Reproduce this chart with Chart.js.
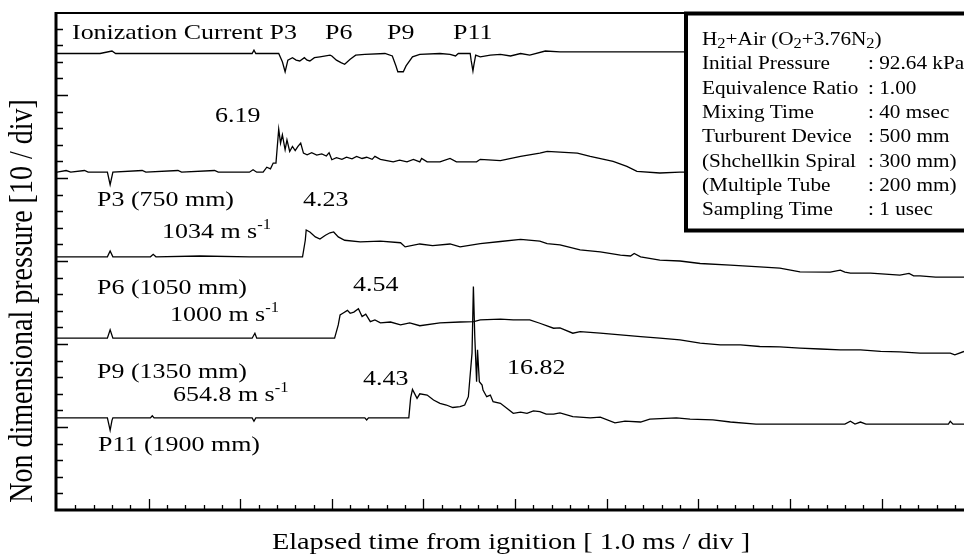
<!DOCTYPE html>
<html>
<head>
<meta charset="utf-8">
<script src="https://cdn.jsdelivr.net/npm/chart.js@4.4.0/dist/chart.umd.min.js"></script>
<style>
  html, body { margin: 0; padding: 0; background: #fff; }
  #wrap { width: 964px; height: 556px; }
</style>
</head>
<body>
<div id="wrap"><canvas id="pressureChart" width="964" height="556"></canvas></div>
<script>
// time in ms from ignition, pressure as p/p0; each trace is shifted up by its offset
const ionTime = [0, 0.47, 0.60, 0.64, 1.56, 2.13, 2.15, 2.17, 2.42, 2.46, 2.49, 2.52, 2.57, 2.61, 2.65, 2.70, 2.73, 2.76, 2.81, 2.87, 2.98, 3.00, 3.05, 3.10, 3.14, 3.20, 3.26, 3.36, 3.58, 3.66, 3.70, 3.72, 3.78, 3.81, 3.88, 3.96, 4.18, 4.29, 4.35, 4.38, 4.51, 4.52, 4.54, 4.55, 4.57, 4.62, 4.73, 4.84, 4.95, 5.06, 5.16, 5.33, 5.49, 5.71, 6.91];
const ionSignal = [0, 0, 0.3, 0, 0, 0, 0.4, 0, 0, -1.0, -2.2, -0.8, -0.5, -0.8, -0.9, -0.5, -0.8, -0.9, -0.5, -0.4, -0.2, -0.3, -0.8, -1.1, -1.3, -0.7, -0.2, -0.1, 0, -0.3, -1.5, -2.2, -2.2, -1.5, -0.4, -0.1, 0, -0.1, -0.3, 0, 0, -0.8, -2.1, -1.4, -0.2, -0.4, -0.2, -0.1, -0.3, 0, -0.2, 0.3, 0.2, 0.2, 0.2];

const p3Time = [0, 0.10, 0.15, 0.30, 0.34, 0.55, 0.58, 0.61, 0.93, 0.97, 1.32, 1.36, 1.72, 1.76, 2.10, 2.14, 2.18, 2.25, 2.29, 2.33, 2.36, 2.39, 2.42, 2.44, 2.46, 2.49, 2.51, 2.54, 2.57, 2.60, 2.63, 2.66, 2.69, 2.73, 2.78, 2.835, 2.89, 2.94, 2.97, 3.00, 3.05, 3.11, 3.16, 3.22, 3.27, 3.33, 3.38, 3.44, 3.47, 3.53, 3.60, 3.67, 3.74, 3.82, 3.89, 3.96, 3.98, 4.04, 4.18, 4.29, 4.36, 4.58, 4.62, 4.84, 5.06, 5.27, 5.35, 5.68, 5.82, 6.07, 6.22, 6.33, 6.58, 6.80, 6.95];
const p3Ratio = [1.0, 1.2, 1.0, 1.2, 1.0, 1.0, -0.5, 1.0, 1.2, 1.0, 1.2, 1.0, 1.2, 1.0, 1.0, 1.3, 1.0, 1.0, 1.6, 1.4, 2.1, 2.1, 6.19, 4.5, 5.5, 3.7, 4.9, 3.5, 4.1, 3.6, 4.1, 4.5, 3.3, 3.1, 3.35, 3.05, 3.2, 2.95, 3.35, 2.5, 2.75, 2.55, 2.8, 2.6, 2.9, 2.65, 2.8, 2.55, 2.9, 2.55, 2.4, 2.25, 2.45, 2.25, 2.55, 2.25, 2.65, 2.25, 2.25, 2.65, 2.25, 2.25, 2.55, 2.4, 2.9, 3.3, 3.5, 3.3, 2.9, 2.3, 1.7, 1.1, 0.9, 1.0, 1.0];

const p6Time = [0, 0.55, 0.58, 0.61, 1.02, 1.05, 1.08, 1.56, 2.10, 2.68, 2.71, 2.72, 2.76, 2.82, 2.87, 2.93, 2.98, 3.02, 3.07, 3.14, 3.31, 3.53, 3.75, 3.80, 3.96, 4.10, 4.29, 4.40, 4.62, 4.84, 5.06, 5.27, 5.35, 5.49, 5.71, 5.93, 6.15, 6.26, 6.30, 6.37, 6.58, 6.80, 7.02, 7.35, 7.67, 7.89, 8.11, 8.44, 8.55, 8.60, 8.66, 8.88, 9.20, 9.30, 9.35, 9.42, 9.59, 9.90];
const p6Ratio = [1.0, 1.0, 1.7, 1.0, 1.0, 1.3, 1.0, 1.1, 1.0, 1.0, 3.0, 4.23, 4.0, 3.4, 3.15, 3.6, 3.9, 4.0, 3.4, 3.0, 2.8, 2.9, 2.7, 2.2, 2.55, 2.35, 2.55, 2.2, 2.6, 2.85, 3.1, 2.9, 2.6, 2.45, 1.85, 1.6, 1.2, 1.1, 1.4, 1.0, 0.6, 0.5, 0.2, 0.0, -0.2, -0.35, -0.8, -0.85, -0.6, -0.85, -0.95, -0.95, -1.2, -1.0, -1.3, -1.3, -1.45, -1.45];

const p9Time = [0, 0.55, 0.58, 0.61, 2.13, 2.16, 2.18, 3.03, 3.07, 3.09, 3.12, 3.17, 3.20, 3.24, 3.29, 3.33, 3.37, 3.42, 3.47, 3.53, 3.64, 3.75, 3.85, 3.96, 4.18, 4.40, 4.55, 4.62, 4.84, 4.98, 5.16, 5.27, 5.42, 5.49, 5.63, 5.71, 5.93, 6.15, 6.37, 6.58, 6.80, 7.02, 7.24, 7.46, 7.67, 7.89, 8.11, 8.33, 8.55, 8.77, 8.99, 9.20, 9.42, 9.75, 9.80, 9.90];
const p9Ratio = [1.0, 1.0, 2.0, 1.0, 1.0, 1.6, 1.0, 1.0, 2.6, 3.8, 4.0, 4.35, 4.0, 4.15, 4.54, 3.6, 3.9, 3.0, 3.2, 2.85, 2.95, 2.6, 2.85, 2.5, 2.85, 2.95, 3.0, 3.2, 3.3, 3.2, 3.2, 2.8, 2.2, 2.25, 1.6, 1.8, 1.6, 1.4, 1.2, 1.0, 0.8, 0.4, 0.2, 0.2, 0.0, -0.05, -0.2, -0.3, -0.4, -0.4, -0.6, -0.65, -0.8, -0.8, -1.0, -0.6];

const p11Time = [0, 0.55, 0.58, 0.60, 0.61, 1.02, 1.04, 1.06, 2.13, 2.15, 2.17, 3.36, 3.38, 3.40, 3.84, 3.86, 3.88, 3.93, 3.96, 4.04, 4.11, 4.18, 4.25, 4.32, 4.40, 4.45, 4.49, 4.53, 4.545, 4.56, 4.58, 4.59, 4.61, 4.64, 4.65, 4.69, 4.73, 4.76, 4.84, 4.91, 4.98, 5.06, 5.13, 5.20, 5.27, 5.34, 5.42, 5.49, 5.63, 5.82, 5.93, 6.09, 6.20, 6.37, 6.47, 6.76, 6.91, 7.16, 7.35, 7.63, 8.60, 8.66, 8.71, 8.77, 8.83, 9.73, 9.75, 9.78, 9.90];
const p11Ratio = [1.0, 1.0, -0.5, 0.7, 1.0, 1.0, 1.25, 1.0, 1.0, 0.6, 1.0, 1.0, 0.75, 1.0, 1.0, 3.4, 4.43, 3.35, 3.9, 3.75, 3.15, 2.75, 2.55, 2.25, 2.35, 2.55, 3.55, 8.8, 16.82, 10.8, 5.35, 9.2, 5.35, 4.95, 4.35, 3.55, 3.75, 2.95, 2.75, 2.15, 1.55, 1.7, 1.55, 1.85, 1.75, 1.45, 1.45, 1.6, 1.15, 1.0, 1.1, 0.4, 0.6, 0.5, 0.85, 1.0, 0.85, 0.75, 0.5, 0.25, 0.25, 0.6, 0.25, 0.5, 0.25, 0.25, 0.6, 0.25, 0.25];

const ionOffset = 55;
const traceOffsets = [39.7, 29.5, 19.7, 10.1];   // P3, P6, P9, P11

const timeRange = [0, 9.9];       // ms
const pressureRange = [0, 60];    // 10 / div
const timeMajor = 1.0, timeMinor = 0.2;
const pressureMajor = 10, pressureMinor = 2;

const SX = 1.18;   // horizontal stretch of all lettering
const SERIF = '"Liberation Serif", "Times New Roman", serif';

function toPoints(times, values, offset) {
  return times.map((t, i) => ({ x: t, y: values[i] + offset }));
}

// draws a list of runs [text, size, rise] left to right, returns end x
function drawRuns(ctx, runs, x, y) {
  let cx = x;
  runs.forEach(([str, size, rise]) => {
    ctx.save();
    ctx.font = size + 'px ' + SERIF;
    ctx.translate(cx, y - (rise || 0));
    ctx.scale(SX, 1);
    ctx.fillText(str, 0, 0);
    cx += ctx.measureText(str).width * SX;
    ctx.restore();
  });
  return cx;
}

const F = 22;        // label size
const SUP = 14;      // superscript / subscript size
const BOX = 18;      // info box size

const traceLabels = [
  [[['Ionization Current P3', F]], 72, 39],
  [[['P6', F]], 325, 39],
  [[['P9', F]], 387, 39],
  [[['P11', F]], 453, 39],
  [[['6.19', F]], 215, 122],
  [[['P3 (750 mm)', F]], 97, 206],
  [[['4.23', F]], 303, 206],
  [[['1034 m s', F], ['-1', SUP, 9]], 162, 238],
  [[['P6 (1050 mm)', F]], 97, 294],
  [[['4.54', F]], 353, 291],
  [[['1000 m s', F], ['-1', SUP, 9]], 170, 321],
  [[['P9 (1350 mm)', F]], 97, 378],
  [[['4.43', F]], 363, 385],
  [[['16.82', F]], 507, 374],
  [[['654.8 m s', F], ['-1', SUP, 9]], 173, 401],
  [[['P11 (1900 mm)', F]], 98, 451]
];

const boxRows = [
  ['Initial Pressure', ': 92.64 kPa'],
  ['Equivalence Ratio', ': 1.00'],
  ['Mixing Time', ': 40 msec'],
  ['Turburent Device', ': 500 mm'],
  ['(Shchellkin Spiral', ': 300 mm)'],
  ['(Multiple Tube', ': 200 mm)'],
  ['Sampling Time', ': 1 usec']
];

const annotate = {
  id: 'annotate',
  afterDatasetsDraw(chart) {
    const { ctx } = chart;
    ctx.save();
    ctx.textBaseline = 'alphabetic';

    // experiment condition box, drawn over the traces
    ctx.fillStyle = '#fff';
    ctx.fillRect(686, 13, 290, 218);
    ctx.strokeStyle = '#000';
    ctx.lineWidth = 4;
    ctx.strokeRect(686, 13.5, 290, 217);
    ctx.fillStyle = '#000';
    drawRuns(ctx, [
      ['H', BOX], ['2', SUP, -3], ['+Air (O', BOX], ['2', SUP, -3],
      ['+3.76N', BOX], ['2', SUP, -3], [')', BOX]
    ], 702, 45);
    boxRows.forEach((row, i) => {
      const by = 45 + 24.3 * (i + 1);
      drawRuns(ctx, [[row[0], BOX]], 702, by);
      drawRuns(ctx, [[row[1], BOX]], 868, by);
    });

    traceLabels.forEach(([runs, x, y]) => drawRuns(ctx, runs, x, y));
    ctx.restore();
  },
  afterDraw(chart) {
    const { ctx, chartArea: a, scales: { x, y } } = chart;
    ctx.save();
    ctx.strokeStyle = '#000';

    // frame: heavy left and bottom axes, thin top line
    ctx.lineWidth = 3;
    ctx.beginPath();
    ctx.moveTo(a.left - 1, a.top);
    ctx.lineTo(a.left - 1, a.bottom);
    ctx.lineTo(a.right, a.bottom);
    ctx.stroke();
    ctx.lineWidth = 2;
    ctx.beginPath();
    ctx.moveTo(a.left - 1, a.top + 1);
    ctx.lineTo(a.right, a.top + 1);
    ctx.stroke();

    // inward ticks
    ctx.lineWidth = 1.3;
    ctx.beginPath();
    for (let v = pressureRange[0] + pressureMinor; v < pressureRange[1]; v += pressureMinor) {
      const py = Math.round(y.getPixelForValue(v)) + 0.5;
      const len = Math.abs(v % pressureMajor) < 1e-6 ? 11 : 6;
      ctx.moveTo(a.left, py);
      ctx.lineTo(a.left + len, py);
    }
    for (let k = 1; k * timeMinor <= timeRange[1] + 1e-6; k++) {
      const t = k * timeMinor;
      const px = Math.round(x.getPixelForValue(t)) + 0.5;
      const len = k % Math.round(timeMajor / timeMinor) === 0 ? 11 : 5;
      ctx.moveTo(px, a.bottom);
      ctx.lineTo(px, a.bottom - len);
    }
    ctx.stroke();

    // axis titles
    ctx.fillStyle = '#000';
    ctx.font = '24px ' + SERIF;
    const xt = 'Elapsed time from ignition [ 1.0 ms / div ]';
    const xw = ctx.measureText(xt).width * SX;
    drawRuns(ctx, [[xt, 24]], 511 - xw / 2, 549);

    ctx.save();
    ctx.translate(32, 301);
    ctx.rotate(-Math.PI / 2);
    ctx.scale(1, SX);
    ctx.font = '28px ' + SERIF;
    ctx.textAlign = 'center';
    ctx.fillText('Non dimensional pressure [10 / div]', 0, 0);
    ctx.restore();

    ctx.restore();
  }
};

const lineStyle = {
  borderColor: '#000',
  borderWidth: 1.3,
  pointRadius: 0,
  tension: 0,
  fill: false
};

new Chart(document.getElementById('pressureChart'), {
  type: 'line',
  data: {
    datasets: [
      { label: 'Ionization Current', data: toPoints(ionTime, ionSignal, ionOffset), ...lineStyle },
      { label: 'P3', data: toPoints(p3Time, p3Ratio, traceOffsets[0]), ...lineStyle },
      { label: 'P6', data: toPoints(p6Time, p6Ratio, traceOffsets[1]), ...lineStyle },
      { label: 'P9', data: toPoints(p9Time, p9Ratio, traceOffsets[2]), ...lineStyle },
      { label: 'P11', data: toPoints(p11Time, p11Ratio, traceOffsets[3]), ...lineStyle }
    ]
  },
  options: {
    responsive: false,
    animation: false,
    devicePixelRatio: 1,
    layout: { padding: { top: 12, right: 0, left: 0, bottom: 0 } },
    plugins: { legend: { display: false }, tooltip: { enabled: false } },
    scales: {
      x: {
        type: 'linear', min: timeRange[0], max: timeRange[1],
        ticks: { display: false }, grid: { display: false }, border: { display: false },
        afterFit(s) { s.height = 46; }
      },
      y: {
        type: 'linear', min: pressureRange[0], max: pressureRange[1],
        ticks: { display: false }, grid: { display: false }, border: { display: false },
        afterFit(s) { s.width = 57; }
      }
    }
  },
  plugins: [annotate]
});
</script>
</body>
</html>
